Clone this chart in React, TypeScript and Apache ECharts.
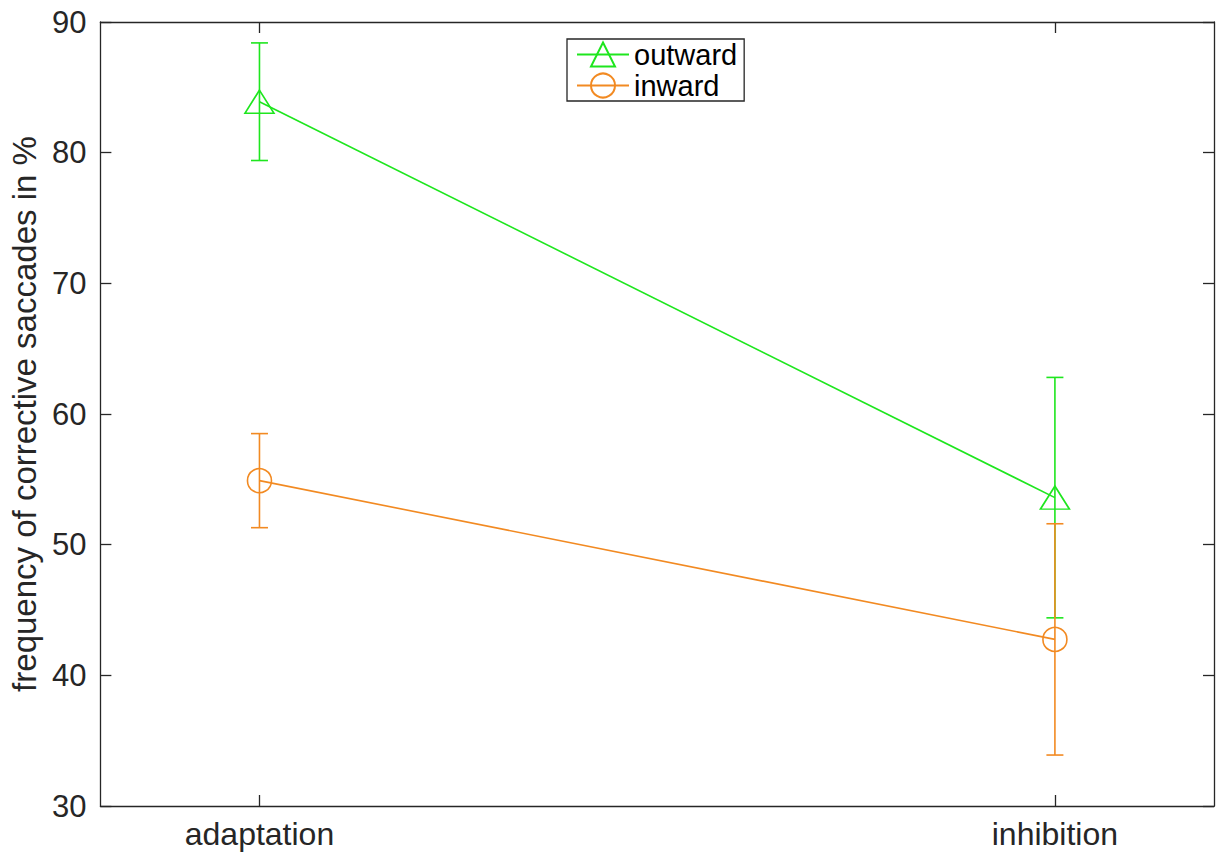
import React, { useEffect, useRef } from 'react';
import * as echarts from 'echarts';

// ---- data ----
const conditions = ['adaptation', 'inhibition'];
const conditionPos = [1, 2];
const outwardMean = [83.9, 53.6];
const outwardErr = [4.5, 9.2];
const inwardMean = [54.9, 42.75];
const inwardErr = [3.6, 8.85];
const yTickValues = [30, 40, 50, 60, 70, 80, 90];
const seriesNames = ['outward', 'inward'];

const GREEN = '#1ee61e';
const ORANGE = '#f28a22';
const AX = '#262626';
const FONT = '"Liberation Sans", Arial, Helvetica, sans-serif';

const linePoints = (mean: number[]) => conditionPos.map((x, i) => [x, mean[i]]);
const errPoints = (mean: number[], err: number[]) =>
  conditionPos.map((x, i) => [x, mean[i] - err[i], mean[i] + err[i]]);

const errSeries = (name: string, mean: number[], err: number[], color: string) => ({
  type: 'custom',
  name,
  xAxisIndex: 0,
  yAxisIndex: 0,
  encode: { x: 0, y: [1, 2] },
  data: errPoints(mean, err),
  silent: true,
  renderItem: (_params: any, api: any) => {
    const x = api.value(0);
    const lo = api.coord([x, api.value(1)]);
    const hi = api.coord([x, api.value(2)]);
    const w = 8.5;
    const style = { stroke: color, lineWidth: 1.6, fill: 'none' };
    return {
      type: 'group',
      children: [
        { type: 'line', shape: { x1: lo[0], y1: lo[1], x2: hi[0], y2: hi[1] }, style },
        { type: 'line', shape: { x1: lo[0] - w, y1: lo[1], x2: lo[0] + w, y2: lo[1] }, style },
        { type: 'line', shape: { x1: hi[0] - w, y1: hi[1], x2: hi[0] + w, y2: hi[1] }, style },
      ],
    };
  },
});

const lineSeries = (name: string, mean: number[], color: string, symbol: string, size: any) => ({
  type: 'line',
  name,
  xAxisIndex: 0,
  yAxisIndex: 0,
  data: linePoints(mean),
  symbol,
  symbolSize: size,
  showSymbol: true,
  lineStyle: { color, width: 1.6 },
  itemStyle: { color: 'rgba(255,255,255,0)', borderColor: color, borderWidth: 1.6 },
  emphasis: { disabled: true },
});

const xAxisBase = (position: string, labels: boolean) => ({
  type: 'value',
  position,
  min: 0.8,
  max: 2.2,
  interval: 0.2,
  axisLine: { show: true, onZero: false, lineStyle: { color: AX, width: 1.3 } },
  axisTick: { show: true, inside: true, length: 11, customValues: conditionPos, lineStyle: { color: AX, width: 1.3 } },
  axisLabel: {
    show: labels,
    customValues: conditionPos,
    formatter: (v: number) => conditions[conditionPos.indexOf(Math.round(v))] ?? '',
    fontSize: 32,
    fontFamily: FONT,
    color: AX,
    margin: 12,
  },
  splitLine: { show: false },
});

const yAxisBase = (position: string, labels: boolean) => ({
  type: 'value',
  position,
  min: yTickValues[0],
  max: yTickValues[yTickValues.length - 1],
  interval: 10,
  axisLine: { show: true, onZero: false, lineStyle: { color: AX, width: 1.3 } },
  axisTick: { show: true, inside: true, length: 11, lineStyle: { color: AX, width: 1.3 } },
  axisLabel: { show: labels, fontSize: 31, fontFamily: FONT, color: AX, margin: 14 },
  splitLine: { show: false },
});

export default function App() {
  const ref = useRef<HTMLDivElement>(null);
  useEffect(() => {
    if (!ref.current) return;
    const chart = echarts.init(ref.current, undefined, { renderer: 'svg' });
    chart.setOption({
      animation: false,
      backgroundColor: '#ffffff',
      textStyle: { fontFamily: FONT },
      grid: { left: 96, top: 22, right: 6, bottom: 46, containLabel: false },
      xAxis: [xAxisBase('bottom', true), xAxisBase('top', false)],
      yAxis: [
        {
          ...yAxisBase('left', true),
          name: 'frequency of corrective saccades in %',
          nameLocation: 'middle',
          nameGap: 50,
          nameTextStyle: { fontSize: 33, fontFamily: FONT, color: AX },
        },
        yAxisBase('right', false),
      ],
      legend: {
        orient: 'vertical',
        left: 567,
        top: 39,
        data: seriesNames,
        borderColor: AX,
        borderWidth: 1.3,
        backgroundColor: '#ffffff',
        padding: [1, 7, 1, 9],
        itemGap: 2,
        itemWidth: 52,
        itemHeight: 30,
        selectedMode: false,
        textStyle: { fontSize: 29, fontFamily: FONT, color: '#000000' },
      },
      series: [
        lineSeries(seriesNames[0], outwardMean, GREEN, 'triangle', [29, 23]),
        errSeries('outward error', outwardMean, outwardErr, GREEN),
        lineSeries(seriesNames[1], inwardMean, ORANGE, 'circle', 24),
        errSeries('inward error', inwardMean, inwardErr, ORANGE),
      ],
    });
    return () => chart.dispose();
  }, []);
  return (
    <div
      ref={ref}
      style={{ position: 'fixed', left: 0, top: 0, width: 1220, height: 852, background: '#fff' }}
    />
  );
}
